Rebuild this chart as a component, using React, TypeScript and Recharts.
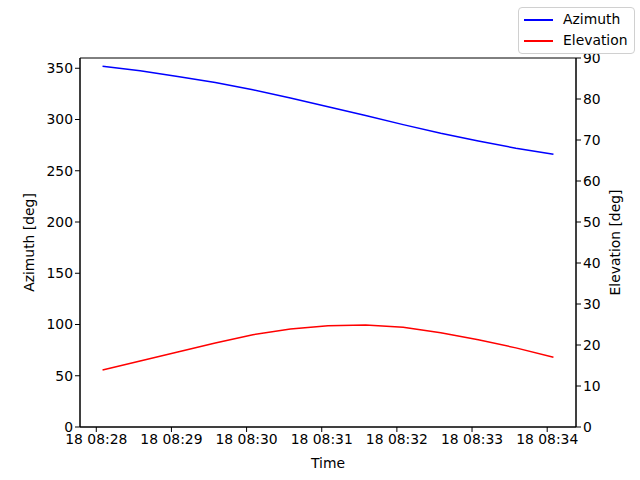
import React from 'react';
import { LineChart, Line, XAxis, YAxis, ReferenceArea } from 'recharts';

// seconds after 18 08:28:00
const times = [5, 35, 65, 95, 125, 155, 185, 215, 245, 275, 305, 335, 365];
const azimuth = [352, 347.5, 342, 336, 329, 321, 312.5, 304, 295, 286.5, 279, 272, 266];
const elevation = [13.9, 16.1, 18.3, 20.5, 22.5, 23.9, 24.7, 24.9, 24.3, 23.0, 21.3, 19.3, 17.0];
const timeTicks = [0, 60, 120, 180, 240, 300, 360];
const azTicks = [0, 50, 100, 150, 200, 250, 300, 350];
const elTicks = [0, 10, 20, 30, 40, 50, 60, 70, 80, 90];
const seriesNames = ['Azimuth', 'Elevation'];
const seriesColors = ['blue', 'red'];

const data = times.map((t, i) => ({ t, az: azimuth[i], el: elevation[i] }));

const font = 'DejaVu Sans, sans-serif';
const tickStyle = { fontSize: 13.9, fill: '#000', fontFamily: font };

const fmtTime = (s: number) => {
  const m = 28 + Math.round(s / 60);
  return `18 08:${String(m).padStart(2, '0')}`;
};

const LegendBox = () => (
  <div
    style={{
      position: 'absolute',
      left: 518,
      top: 7,
      width: 104,
      border: '1px solid #d0d0d0',
      borderRadius: 4,
      background: '#fff',
      padding: '1px 6px 2px 5px',
      fontFamily: font,
      fontSize: 13.9,
      lineHeight: '21px',
    }}
  >
    {seriesNames.map((name, i) => (
      <div key={name} style={{ display: 'flex', alignItems: 'center' }}>
        <span style={{ display: 'inline-block', width: 29, height: 2, background: seriesColors[i], marginRight: 10 }} />
        <span>{name}</span>
      </div>
    ))}
  </div>
);

export default function App() {
  return (
    <div style={{ position: 'absolute', left: 0, top: 0, width: 640, height: 480, background: '#fff' }}>
      <LineChart width={640} height={480} data={data} margin={{ top: 58, right: 0, left: 0, bottom: 0 }}>
        <XAxis
          dataKey="t"
          type="number"
          domain={[-13, 383]}
          ticks={timeTicks}
          tickFormatter={fmtTime}
          tick={tickStyle}
          tickSize={5}
          axisLine={{ stroke: '#000' }}
          tickLine={{ stroke: '#000' }}
          height={53}
          allowDataOverflow
          label={{ value: 'Time', position: 'insideBottom', offset: 12, style: { ...tickStyle } }}
        />
        <YAxis
          yAxisId="az"
          domain={[0, 360]}
          ticks={azTicks}
          tick={tickStyle}
          tickSize={5}
          width={80}
          axisLine={{ stroke: '#000' }}
          tickLine={{ stroke: '#000' }}
          allowDataOverflow
          label={{ value: 'Azimuth [deg]', angle: -90, position: 'insideLeft', offset: 29, style: { ...tickStyle, textAnchor: 'middle' } }}
        />
        <YAxis
          yAxisId="el"
          orientation="right"
          domain={[0, 90]}
          ticks={elTicks}
          tick={tickStyle}
          tickSize={5}
          width={64}
          axisLine={{ stroke: '#000' }}
          tickLine={{ stroke: '#000' }}
          allowDataOverflow
          label={{ value: 'Elevation [deg]', angle: -90, position: 'insideRight', offset: 25, style: { ...tickStyle, textAnchor: 'middle' } }}
        />
        <ReferenceArea yAxisId="az" x1={-13} x2={383} y1={0} y2={360} fill="none" stroke="#000" strokeWidth={1} />
        <Line yAxisId="az" dataKey="az" stroke="blue" strokeWidth={1.5} dot={false} isAnimationActive={false} type="linear" />
        <Line yAxisId="el" dataKey="el" stroke="red" strokeWidth={1.5} dot={false} isAnimationActive={false} type="linear" />
      </LineChart>
      <LegendBox />
    </div>
  );
}
